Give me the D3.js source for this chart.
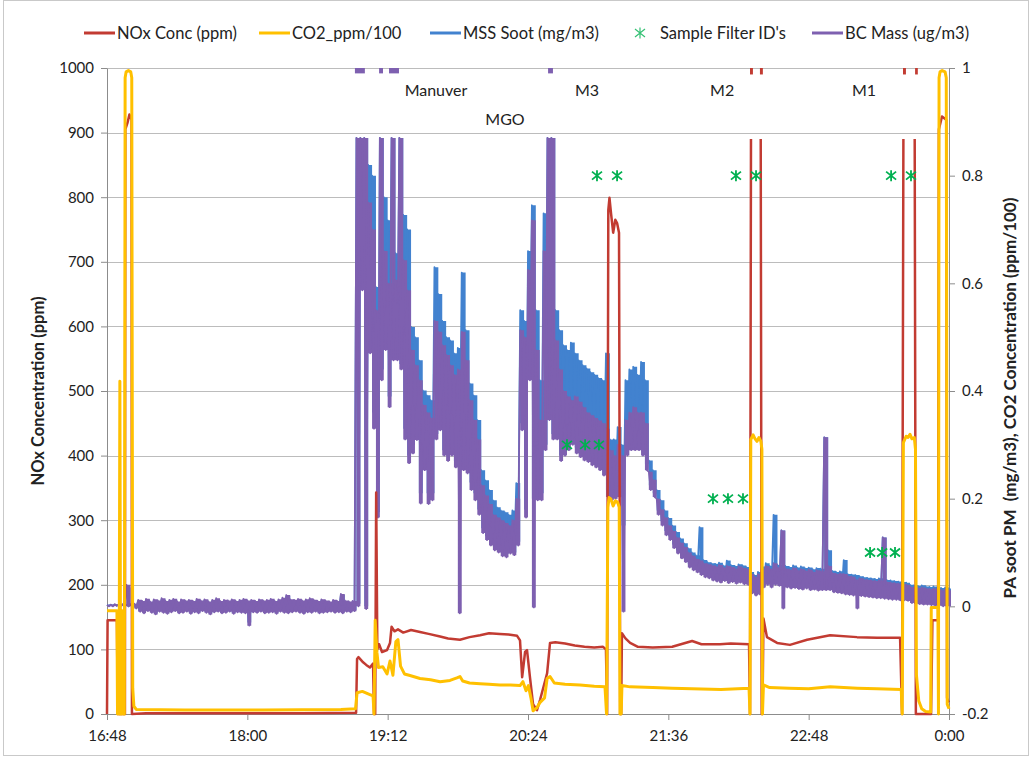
<!DOCTYPE html>
<html>
<head>
<meta charset="utf-8">
<script src="https://cdn.jsdelivr.net/npm/d3@7"></script>
<style>
  body { margin: 0; background: #fff; }
  svg text { font-family: Lato, "Open Sans", sans-serif; fill: #222; }
</style>
</head>
<body>
<svg id="chart" width="1031" height="758"></svg>
<script>
// ---------- Axis tick labels ----------
const xTickLabels = ["16:48", "18:00", "19:12", "20:24", "21:36", "22:48", "0:00"];
const leftTickLabels = ["0", "100", "200", "300", "400", "500", "600", "700", "800", "900", "1000"];
const rightTickLabels = ["-0.2", "0", "0.2", "0.4", "0.6", "0.8", "1"];

// ---------- Series legend ----------
const seriesNames = ["NOx Conc (ppm)", "CO2_ppm/100", "MSS Soot (mg/m3)", "Sample Filter ID's", "BC Mass (ug/m3)"];
const seriesColors = ["#c23b32", "#ffc000", "#4282cf", "#00b050", "#7e60b0"];

// Time is in minutes after 16:48.
// NOx concentration, ppm (left axis). null marks readings above the axis range.
const noxMinutes = [0, 0.3, 5.1, 5.5, 9.2, 9.4, 10.5, 11.5, 12.6, 12.8, 20, 60, 100, 127.8,
  128.3, 129.0, 131.4, 133.0, 134.9, 136.5, 137.0, 137.6, 138.1, 138.7, 139.6, 141.1, 143.7, 145.2,
  146.0, 147.5, 149.3, 152, 156, 160.6, 165, 170.9, 175, 181.1, 186, 191.4, 196, 201.6, 206, 210.4,
  211.9, 213.0, 214.5, 215.5, 217.0, 218.6, 220.6, 222.2, 225.8, 227.3, 230, 235, 240, 245, 250,
  254.5, 256.0, 256.6, 257.2, 257.8, 258.6, 259.7, 260.8, 261.7, 262.7, 263.3, 263.8, 264.2, 266,
  268.4, 272.4, 280, 290, 300.2, 305, 314.5, 320, 329.4, 329.9, 330.4, 330.6, 335.4, 335.9, 336.3,
  336.8, 338.6, 343.8, 350.4, 359.2, 371.0, 384.8, 395.1, 406.9, 407.9, 408.6, 408.8, 414.4, 415.0,
  422.8, 423.5, 426.4, 426.8, 428.4, 430.6, 431.0, 431.5, 432];
const noxValues = [0, 145, 145, 0, 0, 905, 915, 928, 920, 0, 1, 1, 1, 2,
  85, 88, 80, 76, 72, 78, 0, 0, 343, 100, 108, 96, 99, 110,
  135, 128, 131, 126, 130, 127, 124, 120, 117, 115, 119, 122, 125, 124, 123, 121,
  114, 57, 96, 99, 57, 15, 6, 22, 63, 110, 111, 109, 106, 104, 103,
  104, 100, 0, 780, 799, 775, 745, 765, 760, 745, 0, 0, 125, 117,
  110, 104, 103, 104, 113, 108, 108, 109, 108, 0, 890, null, 890, 0, 0,
  148, 119, 110, 107, 115, 122, 119, 118, 118, 0, 890, null, 890, 0,
  0, 145, 145, 905, 925, 920, 25, 20, 18];
// Periods where NOx ran above the top of the axis
const noxOverRange = [[329.9, 331.4], [335.0, 336.5], [408.4, 409.9], [414.6, 416.0]];

// CO2 / 100 (left axis)
const co2Minutes = [0, 5.1, 5.4, 5.9, 6.2, 6.6, 7.0, 7.6, 8.0, 8.3, 8.9, 9.3, 9.8, 11, 12.2, 12.7,
  13.2, 13.8, 15, 40, 80, 120, 127.5, 128.3, 131, 134.9, 136.5, 137.0, 137.6, 138.5, 139.3, 141.5,
  143.7, 145.2, 146.7, 148.2, 149.3, 150.6, 152.6, 155, 160.6, 166, 170.9, 176, 179.5, 181.1, 182.5,
  186, 191.4, 196, 201.6, 207, 211.9, 213.4, 215, 216.2, 217.5, 218.6, 220.6, 222.2, 224.5, 225.8,
  227.3, 229.5, 235, 242.7, 250, 255.5, 256.3, 257.0, 257.6, 258.5, 259.7, 260.8, 262.0, 262.8,
  263.2, 263.8, 264.2, 268.4, 280, 290, 300, 315, 329.4, 329.9, 330.3, 331.5, 332.5, 333.5, 334.5,
  335.5, 336.0, 336.3, 336.8, 340, 350, 360, 371, 385, 395, 407.5, 408.0, 408.6, 410, 411, 412, 413,
  414.2, 414.8, 415.3, 416.5, 418, 420, 422.6, 422.9, 426.3, 426.6, 426.9, 427.4, 428.5, 430.0,
  430.6, 431.1, 432];
const co2Values = [160, 160, 0, 160, 0, 515, 0, 0, 160, 0, 0, 985, 994, 996, 994, 985,
  40, 12, 7, 6, 6, 7, 8, 33, 35, 30, 28, 0, 145, 95, 72, 73,
  62, 82, 60, 112, 115, 74, 62, 60, 55, 53, 50, 52, 56, 58, 51,
  48, 47, 46, 45, 45, 44, 50, 36, 44, 25, 5, 10, 18, 25, 55,
  58, 48, 46, 45, 43, 42, 0, 320, 335, 333, 322, 330, 328, 320,
  0, 0, 44, 42, 41, 40, 39, 38, 40, 0, 425, 432, 426, 422, 428,
  422, 410, 0, 45, 41, 40, 39, 42, 40, 39, 38, 0, 420, 430, 428, 433, 426,
  428, 410, 60, 20, 8, 4, 3, 165, 165, 0, 985, 994, 996, 994,
  985, 15, 8];

// Soot instruments (right axis): two-minute bins, lowest and highest reading per bin
const sootMinutes = [
  0, 2, 4, 6, 8, 10, 12, 14, 16, 18, 20, 22, 24, 26, 28, 30, 32, 34, 36, 38,
  40, 42, 44, 46, 48, 50, 52, 54, 56, 58, 60, 62, 64, 66, 68, 70, 72, 74, 76, 78,
  80, 82, 84, 86, 88, 90, 92, 94, 96, 98, 100, 102, 104, 106, 108, 110, 112, 114, 116, 118,
  120, 122, 124, 126, 128, 130, 132, 134, 136, 138, 140, 142, 144, 146, 148, 150, 152, 154, 156, 158,
  160, 162, 164, 166, 168, 170, 172, 174, 176, 178, 180, 182, 184, 186, 188, 190, 192, 194, 196, 198,
  200, 202, 204, 206, 208, 210, 212, 214, 216, 218, 220, 222, 224, 226, 228, 230, 232, 234, 236, 238,
  240, 242, 244, 246, 248, 250, 252, 254, 256, 258, 260, 262, 264, 266, 268, 270, 272, 274, 276, 278,
  280, 282, 284, 286, 288, 290, 292, 294, 296, 298, 300, 302, 304, 306, 308, 310, 312, 314, 316, 318,
  320, 322, 324, 326, 328, 330, 332, 334, 336, 338, 340, 342, 344, 346, 348, 350, 352, 354, 356, 358,
  360, 362, 364, 366, 368, 370, 372, 374, 376, 378, 380, 382, 384, 386, 388, 390, 392, 394, 396, 398,
  400, 402, 404, 406, 408, 410, 412, 414, 416, 418, 420, 422, 424, 426, 428, 430, 432];

// MSS Soot, mg/m3
const sootHigh = [
  0.003, 0.003, 0.003, 0.003, 0.003, 0.035, 0.003, 0.004,
  0.010, 0.008, 0.012, 0.008, 0.011, 0.009, 0.013, 0.008, 0.010, 0.012,
  0.008, 0.011, 0.009, 0.010, 0.008, 0.012, 0.009, 0.011, 0.008, 0.010,
  0.013, 0.008, 0.010, 0.009, 0.011, 0.008, 0.010, 0.012, 0.009, 0.010,
  0.008, 0.011, 0.009, 0.010, 0.012, 0.008, 0.011, 0.014, 0.019, 0.011,
  0.010, 0.012, 0.009, 0.011, 0.013, 0.010, 0.008, 0.011, 0.009, 0.008,
  0.010, 0.008, 0.021, 0.009, 0.008, 0.008,
  0.87, 0.87, 0.87, 0.82, 0.80, 0.593, 0.87, 0.76, 0.717, 0.87,
  0.656, 0.87, 0.727, 0.70, 0.519, 0.50, 0.457, 0.401, 0.392, 0.383,
  0.63, 0.58, 0.53, 0.50, 0.494, 0.47, 0.48, 0.62, 0.513, 0.414,
  0.392, 0.346, 0.253, 0.234, 0.216, 0.197, 0.184, 0.178, 0.175, 0.17,
  0.178, 0.229, 0.55, 0.53, 0.66, 0.745, 0.55, 0.42, 0.73, 0.87,
  0.87, 0.55, 0.513, 0.485, 0.476, 0.49, 0.47, 0.457, 0.448, 0.442,
  0.435, 0.43, 0.424, 0.42, 0.47, 0.31, 0.31, 0.333, 0.30, 0.42,
  0.44, 0.445, 0.43, 0.454, 0.42, 0.271, 0.253, 0.216, 0.197, 0.178,
  0.164, 0.15, 0.138, 0.126, 0.117, 0.108, 0.10, 0.095, 0.147, 0.086,
  0.082, 0.08, 0.079, 0.081, 0.076, 0.085, 0.077, 0.075, 0.078, 0.076,
  0.073, 0.064, 0.058, 0.064, 0.074, 0.08, 0.075, 0.17, 0.077, 0.141,
  0.075, 0.073, 0.076, 0.072, 0.074, 0.071, 0.072, 0.069, 0.071, 0.07,
  0.314, 0.104, 0.066, 0.064, 0.065, 0.086, 0.06, 0.059, 0.058, 0.056,
  0.054, 0.053, 0.052, 0.051, 0.052, 0.128, 0.049, 0.048, 0.047, 0.046,
  0.045, 0.044, 0.04, 0.039, 0.038, 0.039, 0.037, 0.036, 0.037, 0.035,
  0.034, 0.035, 0.033];
const sootLow = [
  0.001, 0.001, 0.001, 0.001, 0.001, 0.0, 0.001, -0.002,
  -0.008, -0.011, -0.007, -0.010, -0.013, -0.008, -0.010, -0.012, -0.009, -0.007,
  -0.011, -0.010, -0.008, -0.012, -0.009, -0.011, -0.007, -0.010, -0.013, -0.009,
  -0.008, -0.011, -0.010, -0.008, -0.012, -0.009, -0.010, -0.011, -0.030, -0.009,
  -0.010, -0.008, -0.011, -0.010, -0.009, -0.012, -0.008, -0.010, -0.011, -0.009,
  -0.008, -0.010, -0.012, -0.009, -0.010, -0.008, -0.011, -0.010, -0.009, -0.008,
  -0.010, -0.009, -0.011, -0.008, -0.009, -0.007,
  0.005, 0.6, 0.0, 0.5, 0.36, 0.175, 0.44, 0.49, 0.39, 0.47,
  0.47, 0.45, 0.33, 0.28, 0.30, 0.32, 0.21, 0.27, 0.21, 0.21,
  0.32, 0.34, 0.29, 0.28, 0.29, 0.27, 0.26, 0.27, 0.26, 0.23,
  0.21, 0.18, 0.145, 0.13, 0.12, 0.11, 0.105, 0.10, 0.097, 0.105,
  0.10, 0.12, 0.34, 0.18, 0.43, 0.2, 0.21, 0.21, 0.30, 0.36,
  0.32, 0.32, 0.28, 0.29, 0.30, 0.31, 0.295, 0.29, 0.28, 0.28,
  0.27, 0.27, 0.265, 0.255, 0.215, 0.21, 0.21, 0.215, 0.15, 0.29,
  0.30, 0.30, 0.30, 0.29, 0.265, 0.225, 0.21, 0.178, 0.158, 0.14,
  0.13, 0.115, 0.104, 0.095, 0.088, 0.078, 0.072, 0.068, 0.063, 0.058,
  0.056, 0.052, 0.05, 0.048, 0.05, 0.047, 0.049, 0.046, 0.048, 0.045,
  0.044, 0.03, 0.026, 0.028, 0.04, 0.044, 0.04, 0.045, 0.042, 0.04,
  0.04, 0.037, 0.038, 0.036, 0.035, 0.037, 0.034, 0.035, 0.033, 0.034,
  0.034, 0.034, 0.03, 0.029, 0.028, 0.026, 0.025, 0.024, 0.022, 0.022,
  0.021, 0.02, 0.019, 0.018, 0.018, 0.017, 0.016, 0.015, 0.015, 0.014,
  0.014, 0.013, 0.009, 0.008, 0.007, 0.006, 0.006, 0.005, 0.004, 0.004,
  0.003, 0.003, 0.003];

// BC Mass, ug/m3
const bcHigh = [
  0.003, 0.003, 0.004, 0.003, 0.004, 0.04, 0.004, 0.005,
  0.012, 0.010, 0.014, 0.009, 0.013, 0.011, 0.015, 0.010, 0.012, 0.014,
  0.009, 0.013, 0.011, 0.012, 0.010, 0.014, 0.011, 0.013, 0.009, 0.012,
  0.015, 0.010, 0.012, 0.011, 0.013, 0.010, 0.012, 0.014, 0.011, 0.012,
  0.010, 0.013, 0.011, 0.012, 0.014, 0.010, 0.013, 0.016, 0.021, 0.013,
  0.012, 0.014, 0.011, 0.013, 0.015, 0.012, 0.010, 0.013, 0.011, 0.009,
  0.012, 0.010, 0.023, 0.011, 0.009, 0.010,
  0.87, 0.87, 0.87, 0.75, 0.70, 0.55, 0.87, 0.66, 0.60, 0.87,
  0.606, 0.87, 0.643, 0.587, 0.476, 0.448, 0.42, 0.374, 0.36, 0.35,
  0.53, 0.51, 0.485, 0.467, 0.448, 0.43, 0.44, 0.51, 0.457, 0.383,
  0.346, 0.31, 0.225, 0.206, 0.19, 0.17, 0.165, 0.16, 0.155, 0.15,
  0.16, 0.20, 0.513, 0.50, 0.625, 0.717, 0.476, 0.346, 0.66, 0.87,
  0.87, 0.494, 0.44, 0.40, 0.39, 0.383, 0.39, 0.38, 0.37, 0.36,
  0.355, 0.35, 0.345, 0.34, 0.33, 0.29, 0.28, 0.30, 0.28, 0.346,
  0.36, 0.37, 0.36, 0.36, 0.34, 0.25, 0.235, 0.20, 0.18, 0.165,
  0.15, 0.14, 0.128, 0.118, 0.11, 0.10, 0.094, 0.088, 0.085, 0.08,
  0.078, 0.076, 0.074, 0.077, 0.072, 0.075, 0.073, 0.07, 0.074, 0.071,
  0.069, 0.06, 0.055, 0.06, 0.07, 0.075, 0.07, 0.08, 0.072, 0.141,
  0.07, 0.068, 0.071, 0.067, 0.069, 0.066, 0.068, 0.064, 0.067, 0.065,
  0.314, 0.075, 0.062, 0.06, 0.061, 0.06, 0.056, 0.055, 0.05, 0.052,
  0.05, 0.049, 0.048, 0.047, 0.048, 0.128, 0.045, 0.044, 0.043, 0.042,
  0.041, 0.04, 0.036, 0.035, 0.034, 0.035, 0.033, 0.032, 0.033, 0.031,
  0.03, 0.031, 0.03];
const bcLow = [
  0.0, 0.0, 0.001, 0.0, 0.001, 0.0, 0.0, -0.004,
  -0.010, -0.013, -0.009, -0.012, -0.015, -0.010, -0.012, -0.014, -0.011, -0.009,
  -0.013, -0.012, -0.010, -0.014, -0.011, -0.013, -0.009, -0.012, -0.015, -0.011,
  -0.010, -0.013, -0.012, -0.010, -0.014, -0.011, -0.012, -0.013, -0.036, -0.011,
  -0.012, -0.010, -0.013, -0.012, -0.011, -0.014, -0.010, -0.012, -0.013, -0.011,
  -0.010, -0.012, -0.014, -0.011, -0.012, -0.010, -0.013, -0.012, -0.011, -0.010,
  -0.012, -0.011, -0.013, -0.010, -0.011, -0.009,
  0.0, 0.587, -0.005, 0.47, 0.33, 0.165, 0.42, 0.476, 0.37, 0.457,
  0.457, 0.44, 0.31, 0.266, 0.284, 0.309, 0.191, 0.253, 0.19, 0.197,
  0.31, 0.327, 0.28, 0.27, 0.28, 0.258, -0.013, 0.253, 0.247, 0.216,
  0.197, 0.17, 0.136, 0.123, 0.113, 0.104, 0.10, 0.093, 0.091, 0.098,
  0.095, 0.113, 0.327, 0.165, 0.42, -0.002, 0.197, 0.197, 0.29, 0.346,
  0.31, 0.31, 0.27, 0.28, 0.29, 0.30, 0.284, 0.277, 0.271, 0.268,
  0.262, 0.258, 0.253, 0.243, 0.203, 0.197, 0.20, 0.203, -0.01, 0.28,
  0.29, 0.29, 0.29, 0.28, 0.253, 0.216, 0.203, 0.17, 0.15, 0.132,
  0.123, 0.108, 0.098, 0.089, 0.082, 0.072, 0.067, 0.063, 0.058, 0.054,
  0.052, 0.048, 0.046, 0.044, 0.047, 0.043, 0.045, 0.042, 0.044, 0.041,
  0.04, 0.024, 0.02, 0.022, 0.035, 0.04, 0.035, 0.04, 0.038, -0.004,
  0.035, 0.033, 0.034, 0.032, 0.031, 0.033, 0.03, 0.031, 0.029, 0.03,
  0.03, 0.03, 0.026, 0.025, 0.024, 0.022, 0.021, 0.02, -0.004, 0.019,
  0.018, 0.017, 0.016, 0.015, 0.015, 0.014, 0.013, 0.012, 0.012, 0.011,
  0.011, 0.01, 0.006, 0.005, 0.004, 0.003, 0.003, 0.002, 0.001, 0.001,
  0.0, 0.0, 0.0];
// Periods where BC ran above the top of the axis
const bcOverRange = [[127.2, 132.3], [139.6, 141.6], [144.7, 149.8], [226.3, 228.8]];

// Sample filter IDs (right axis)
const filterMinutes = [251.4, 261.7, 322.7, 333.0, 402.3, 412.5, 236.0, 245.3, 252.4, 310.9, 318.6, 326.3, 391.5, 397.7, 404.3];
const filterValues = [0.8, 0.8, 0.8, 0.8, 0.8, 0.8, 0.3, 0.3, 0.3, 0.2, 0.2, 0.2, 0.1, 0.1, 0.1];

// Operating-mode notes, placed by time and left-axis level
const noteLabels = ["Manuver", "MGO", "M3", "M2", "M1"];
const noteMinutes = [168.8, 204.2, 246.3, 315.6, 388.4];
const noteLevels = [957, 912, 957, 957, 957];

// ---------- Layout ----------
const svg = d3.select("#chart");
const plot = { left: 107, right: 949, top: 68, bottom: 714 };
const FONT = "Lato, 'Open Sans', sans-serif";

const toMinutes = s => {
  const [h, m] = s.split(":").map(Number);
  return ((h * 60 + m) - (16 * 60 + 48) + 1440) % 1440;
};
// the last label wraps past midnight
const xTickValues = xTickLabels.map((s, i) => (i > 0 && toMinutes(s) === 0) ? 1440 - (16 * 60 + 48) : toMinutes(s));

const x = d3.scaleLinear().domain([0, 432]).range([plot.left, plot.right]);
const yLeft = d3.scaleLinear().domain([0, 1000]).range([plot.bottom, plot.top]);
const yRight = d3.scaleLinear().domain([-0.2, 1]).range([plot.bottom, plot.top]);

// outer frame
svg.append("rect").attr("x", 3.5).attr("y", 0.5).attr("width", 1025).attr("height", 755)
  .attr("fill", "none").attr("stroke", "#c9c9c9");

// horizontal gridlines
svg.append("g").selectAll("line").data(leftTickLabels.map(Number)).join("line")
  .attr("x1", plot.left).attr("x2", plot.right)
  .attr("y1", d => Math.round(yLeft(d)) + 0.5).attr("y2", d => Math.round(yLeft(d)) + 0.5)
  .attr("stroke", "#bcbcbc").attr("stroke-width", 1);

function styleAxis(g) {
  g.attr("font-family", FONT).attr("font-size", 15);
  g.select(".domain").attr("stroke", "#8c8c8c");
  g.selectAll(".tick line").attr("stroke", "#8c8c8c");
  g.selectAll(".tick text").attr("fill", "#222");
}

svg.append("g").attr("transform", `translate(${plot.left},0)`)
  .call(d3.axisLeft(yLeft).tickValues(leftTickLabels.map(Number)).tickFormat((d, i) => leftTickLabels[i]).tickSize(6).tickPadding(7).tickSizeOuter(0))
  .call(styleAxis);

svg.append("g").attr("transform", `translate(${plot.right},0)`)
  .call(d3.axisRight(yRight).tickValues(rightTickLabels.map(Number)).tickFormat((d, i) => rightTickLabels[i]).tickSize(6).tickPadding(7).tickSizeOuter(0))
  .call(styleAxis);

svg.append("g").attr("transform", `translate(0,${plot.bottom})`)
  .call(d3.axisBottom(x).tickValues(xTickValues).tickFormat((d, i) => xTickLabels[i]).tickSize(6).tickPadding(10).tickSizeOuter(0))
  .call(styleAxis);

// axis titles
svg.append("text").attr("transform", `translate(44,${(plot.top + plot.bottom) / 2}) rotate(-90)`)
  .attr("text-anchor", "middle").attr("font-size", 16.5).attr("font-weight", "bold")
  .text("NOx Concentration (ppm)");
svg.append("text").attr("transform", `translate(1016,398) rotate(-90)`)
  .attr("text-anchor", "middle").attr("font-size", 17).attr("font-weight", "bold")
  .style("white-space", "pre")
  .text("PA soot PM  (mg/m3), CO2 Concentration (ppm/100)");

// ---------- Series ----------
svg.append("clipPath").attr("id", "plotClip").append("rect")
  .attr("x", plot.left - 2).attr("y", plot.top).attr("width", plot.right - plot.left + 4).attr("height", plot.bottom - plot.top + 2);
const series = svg.append("g").attr("clip-path", "url(#plotClip)");

// each two-minute bin: a filled span from its low to its high reading,
// traced by a line running through the high then the low reading
function drawBins(hi, lo, color) {
  const bins = sootMinutes.map((t, i) => [t + 1, lo[i], hi[i]]);
  series.append("path")
    .attr("d", d3.area().curve(d3.curveStep).x(d => x(d[0])).y0(d => yRight(d[1])).y1(d => yRight(d[2]))(bins))
    .attr("fill", color);
  const pts = [];
  sootMinutes.forEach((t, i) => { pts.push([t, hi[i]]); pts.push([t + 1, lo[i]]); });
  series.append("path").attr("d", d3.line().x(d => x(d[0])).y(d => yRight(d[1]))(pts))
    .attr("fill", "none").attr("stroke", color).attr("stroke-width", 1.8).attr("stroke-linejoin", "round");
}
drawBins(sootHigh, sootLow, seriesColors[2]);
drawBins(bcHigh, bcLow, seriesColors[4]);

series.append("g").selectAll("rect").data(bcOverRange).join("rect")
  .attr("x", d => x(d[0])).attr("width", d => x(d[1]) - x(d[0]))
  .attr("y", yRight(1)).attr("height", yRight(0.99) - yRight(1))
  .attr("fill", seriesColors[4]);

const lineLeft = d3.line().defined(d => d[1] != null).x(d => x(d[0])).y(d => yLeft(d[1]));

series.append("path").attr("d", lineLeft(noxMinutes.map((t, i) => [t, noxValues[i]])))
  .attr("fill", "none").attr("stroke", seriesColors[0]).attr("stroke-width", 2.5).attr("stroke-linejoin", "round");
series.append("g").selectAll("rect").data(noxOverRange).join("rect")
  .attr("x", d => x(d[0])).attr("width", d => x(d[1]) - x(d[0]))
  .attr("y", yLeft(1000)).attr("height", yLeft(990) - yLeft(1000))
  .attr("fill", seriesColors[0]);

series.append("path").attr("d", lineLeft(co2Minutes.map((t, i) => [t, co2Values[i]])))
  .attr("fill", "none").attr("stroke", seriesColors[1]).attr("stroke-width", 3).attr("stroke-linejoin", "round");

// asterisk marker
const asterisk = "M-5,-4L5,4M-5,4L5,-4M0,-5.5L0,5.5";
svg.append("g").selectAll("path").data(filterMinutes).join("path")
  .attr("transform", (t, i) => `translate(${x(t)},${yRight(filterValues[i])})`)
  .attr("d", asterisk).attr("fill", "none").attr("stroke", seriesColors[3]).attr("stroke-width", 1.8);

// notes
svg.append("g").selectAll("text").data(noteLabels).join("text")
  .attr("x", (d, i) => x(noteMinutes[i])).attr("y", (d, i) => yLeft(noteLevels[i]))
  .attr("text-anchor", "middle").attr("font-size", 16).text(d => d);

// ---------- Legend ----------
const legendX = [84, 259, 430, 630, 812];
const legendY = 33;
const legend = svg.append("g").attr("font-size", 16.5);
seriesNames.forEach((name, i) => {
  const g = legend.append("g").attr("transform", `translate(${legendX[i]},${legendY})`);
  if (i === 3) {
    g.append("path").attr("transform", "translate(10,0)").attr("d", asterisk)
      .attr("fill", "none").attr("stroke", seriesColors[3]).attr("stroke-width", 1.2).attr("opacity", 0.8);
  } else {
    g.append("line").attr("x1", 0).attr("x2", 31).attr("stroke", seriesColors[i]).attr("stroke-width", 3);
  }
  g.append("text").attr("x", i === 3 ? 30 : 33).attr("dy", "0.35em").text(name);
});
</script>
</body>
</html>
